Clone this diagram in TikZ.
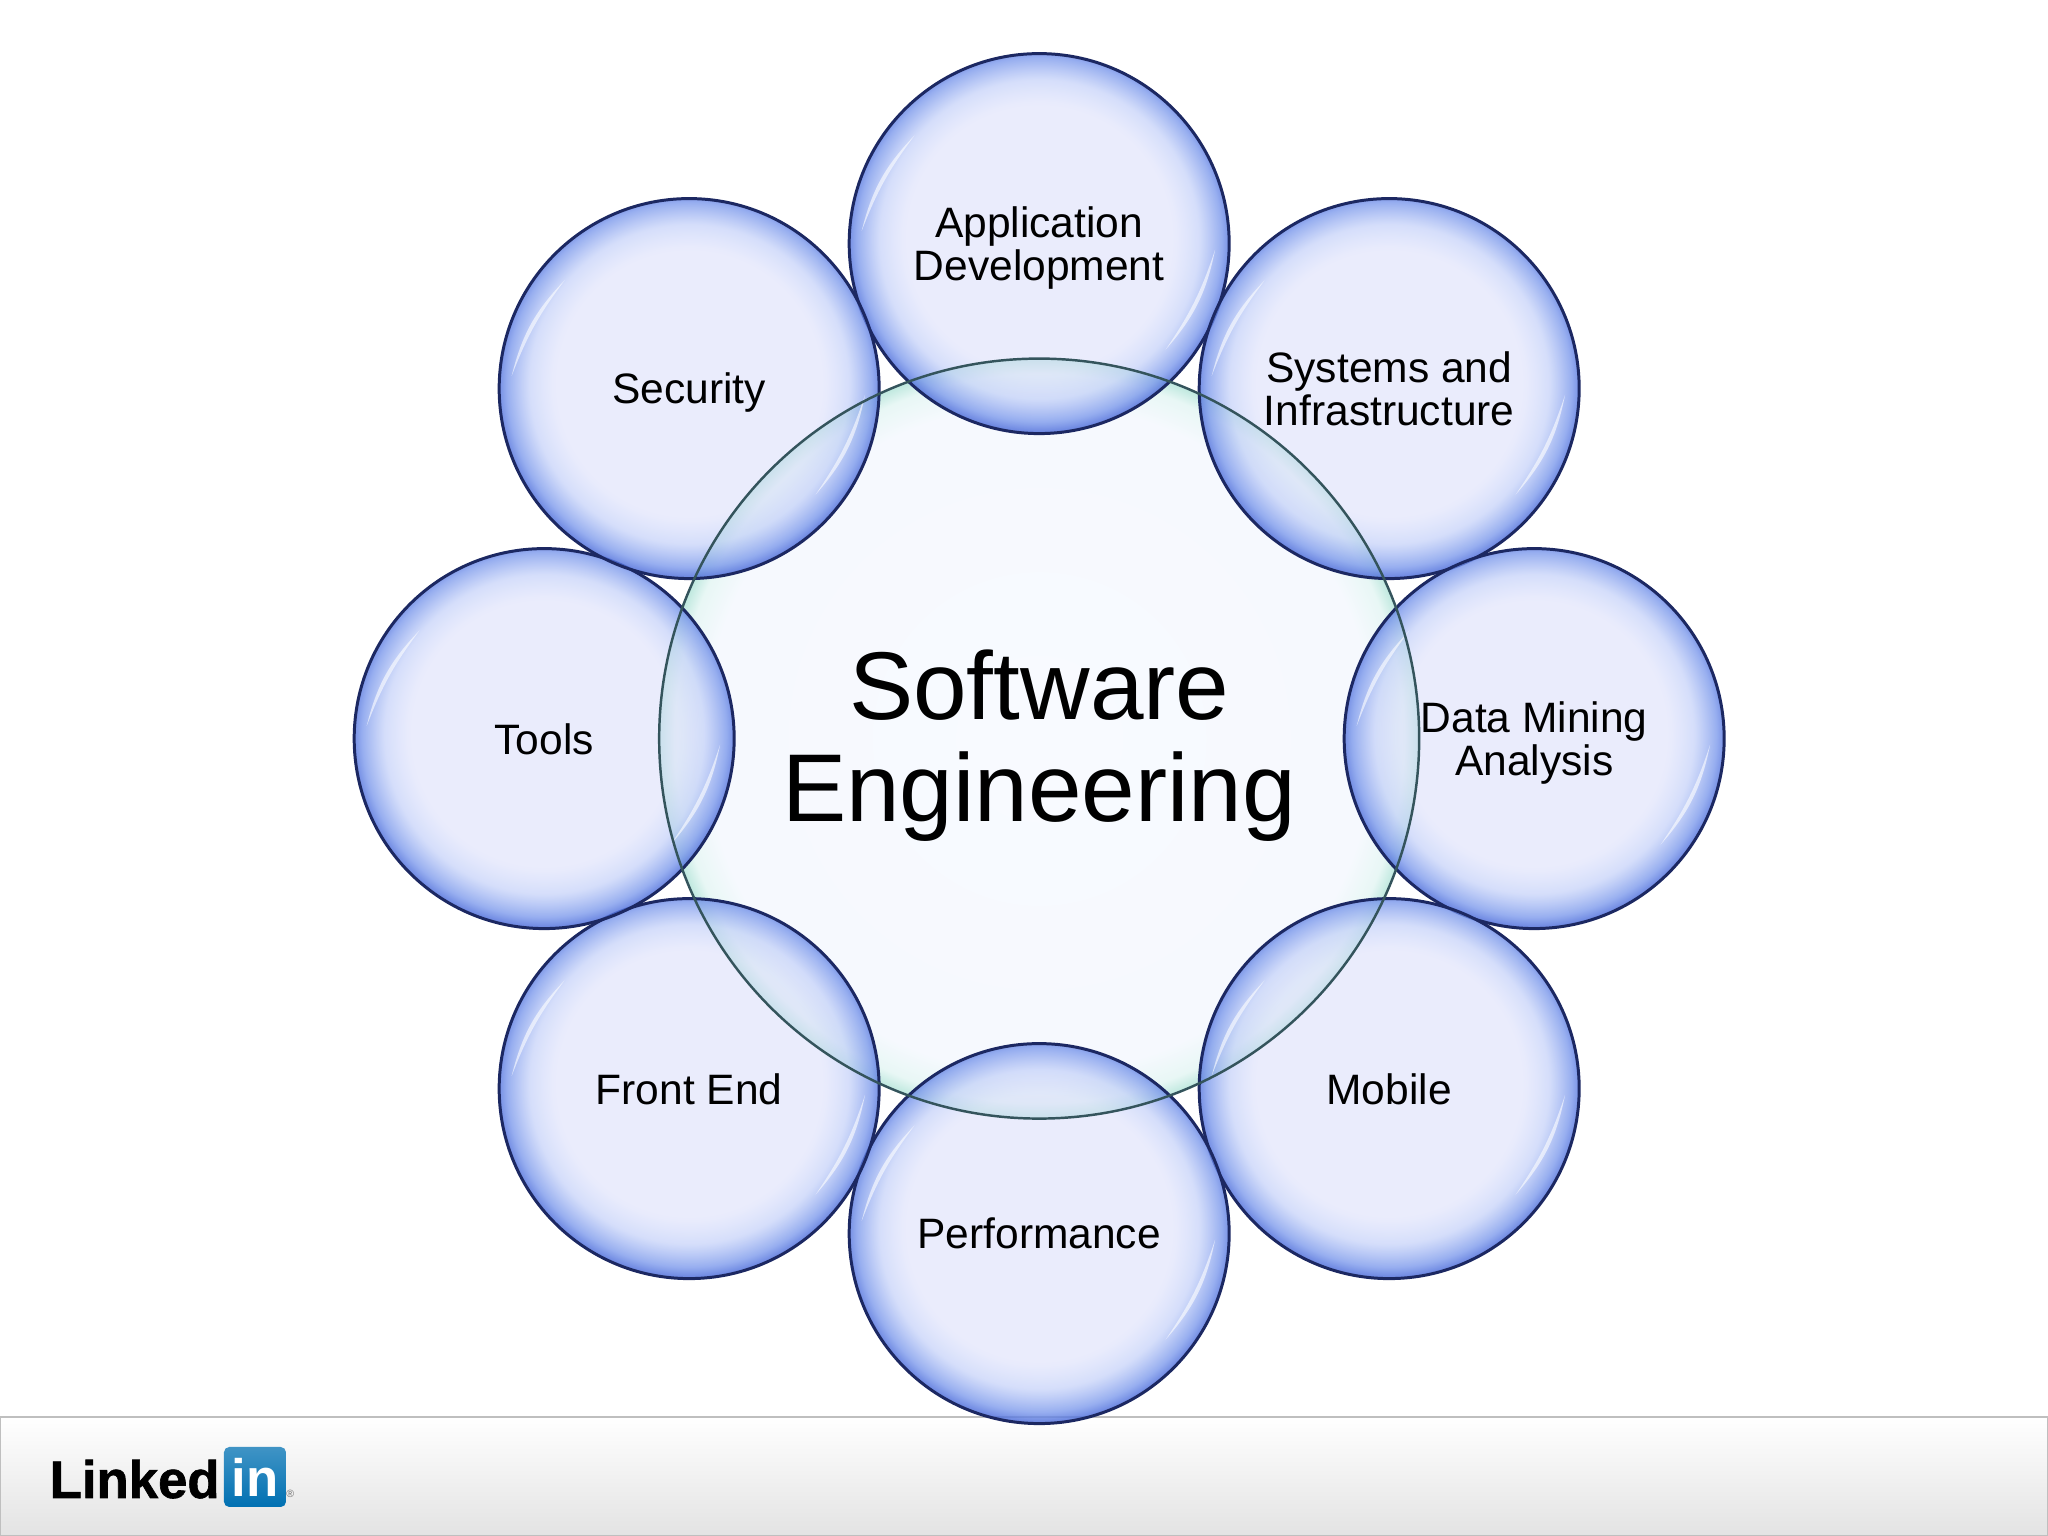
\documentclass[tikz,border=0pt]{standalone}
\usepackage{fontspec}
\setmainfont{Liberation Sans}
\newfontfamily\logofont[FakeBold=1.2]{Liberation Sans Bold}
\usetikzlibrary{fadings}

\definecolor{rimnavy}{RGB}{28,40,98}
\definecolor{hubline}{RGB}{52,84,92}
\definecolor{logoblue}{RGB}{0,112,178}

\pgfdeclareradialshading{bubbleshade}{\pgfpoint{0bp}{1bp}}{
  color(0bp)=(rgb,255:red,214;green,218;blue,250);
  color(17.5bp)=(rgb,255:red,214;green,218;blue,250);
  color(21bp)=(rgb,255:red,190;green,204;blue,248);
  color(24bp)=(rgb,255:red,120;green,150;blue,235);
  color(26bp)=(rgb,255:red,55;green,88;blue,210);
  color(50bp)=(rgb,255:red,55;green,88;blue,210)}
\pgfdeclareradialshading{bubblemask}{\pgfpoint{0bp}{1bp}}{
  color(0bp)=(pgftransparent!48);
  color(18bp)=(pgftransparent!48);
  color(25bp)=(pgftransparent!18);
  color(50bp)=(pgftransparent!18)}
\pgfdeclarefading{bubblefade}{\pgfuseshading{bubblemask}}
\pgfdeclareradialshading{hubshade}{\pgfpointorigin}{
  color(0bp)=(rgb,255:red,248;green,250;blue,255);
  color(22bp)=(rgb,255:red,246;green,249;blue,254);
  color(24bp)=(rgb,255:red,232;green,247;blue,245);
  color(25bp)=(rgb,255:red,190;green,232;blue,222);
  color(50bp)=(rgb,255:red,190;green,232;blue,222)}

\tikzset{
  bubble/.style={circle, minimum size=3.80cm, inner sep=0pt, outer sep=0pt,
    shading=bubbleshade, path fading=bubblefade, align=center, text depth=0pt,
    font=\fontsize{12.1}{12.5}\selectfont},
  rimline/.style={draw=rimnavy, line width=0.85pt},
  hub/.style={circle, minimum size=7.6cm, inner sep=0pt, outer sep=0pt,
    shading=hubshade, align=center, text depth=1.5pt, font=\fontsize{27.4}{29}\selectfont},
  hubrim/.style={draw=hubline, line width=0.7pt},
  gloss/.style={fill=white, opacity=0.6}
}

\begin{document}
\begin{tikzpicture}
  \useasboundingbox (-10.392, -7.974) rectangle (10.088, 7.386);
  \shade[top color=white, bottom color=black!11, draw=black!25, line width=0.6pt]
    (-10.392, -7.974) rectangle (10.088, -6.784);
  \node[hub] (hub) at (0, 0) {Software\\Engineering};
  \foreach \name/\ang/\txt in {appdev/90/{Application\\Development},
      systems/45/{Systems and\\Infrastructure}, datamining/0/{Data Mining\\Analysis},
      mobile/-45/Mobile, performance/-90/Performance, frontend/-135/Front End,
      tools/180/Tools, security/135/Security}{
    \node[bubble] (\name) at (\ang:4.95) {\txt};
    \draw[rimline] (\name.center) circle[radius=1.90];
    \fill[gloss, shift={(\name.center)}] (139:1.65) to[bend right=15] (176:1.78) to[bend left=8] cycle;
    \fill[gloss, shift={(\name.center)}] (-2:1.76) to[bend left=15] (-40:1.65) to[bend right=8] cycle;
  }
  \draw[hubrim] (hub.center) circle[radius=3.8];
  \node[anchor=base west, inner sep=0pt, font=\logofont\fontsize{15}{15}\selectfont] (linked) at (-9.902, -7.594) {Linked};
  \node[rectangle, rounded corners=1.5pt, minimum width=0.62cm, minimum height=0.60cm, inner sep=0pt,
    top color=logoblue!75, bottom color=logoblue, text=white, font=\fontsize{15}{15}\bfseries\selectfont]
    (logoin) at (-7.842, -7.384) {in};
  \node[anchor=base west, inner sep=0pt, text=black!55, font=\fontsize{3}{3}\selectfont] (logomark) at (-7.536, -7.594) {®};
\end{tikzpicture}
\end{document}
